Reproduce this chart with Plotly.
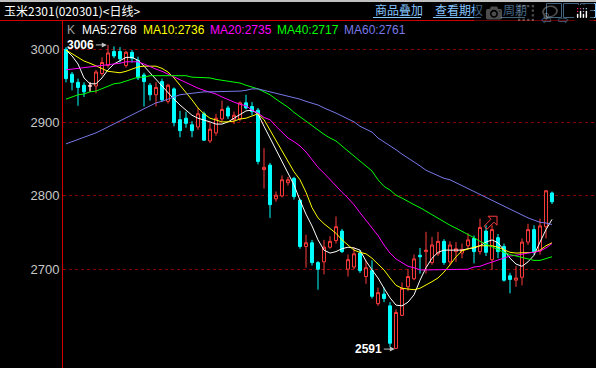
import plotly.graph_objects as go

# ---------------- data ----------------
opens = [3000, 2966, 2955, 2951, 2950, 2950, 2967, 2978, 2997, 2997,
         2978, 2996, 2985, 2965, 2951, 2938, 2956, 2929, 2946, 2904,
         2906, 2897, 2894, 2912, 2875, 2886, 2905, 2920, 2904, 2905,
         2927, 2922, 2917, 2836, 2842, 2796, 2800, 2818, 2824, 2794,
         2731, 2736, 2709, 2710, 2730, 2739, 2752, 2700, 2703, 2722,
         2690, 2698, 2653, 2666, 2650, 2592, 2637, 2676, 2687, 2719,
         2724, 2709, 2721, 2738, 2710, 2724, 2722, 2732, 2742, 2724,
         2752, 2713, 2743, 2731, 2691, 2685, 2689, 2737, 2754, 2725,
         2758, 2804]
highs = [3003, 2969, 2960, 2955, 2955, 2972, 2989, 3006, 3004, 3003,
         2998, 2999, 2990, 2968, 2954, 2955, 2960, 2953, 2948, 2916,
         2915, 2902, 2920, 2915, 2900, 2912, 2930, 2923, 2915, 2929,
         2938, 2928, 2920, 2865, 2845, 2806, 2828, 2826, 2826, 2796,
         2747, 2740, 2711, 2740, 2745, 2772, 2755, 2720, 2730, 2726,
         2712, 2712, 2675, 2675, 2655, 2645, 2682, 2700, 2720, 2729,
         2751, 2744, 2751, 2741, 2738, 2737, 2735, 2749, 2746, 2769,
         2760, 2760, 2748, 2735, 2695, 2704, 2742, 2762, 2760, 2769,
         2808, 2806]
lows = [2955, 2944, 2923, 2935, 2942, 2940, 2964, 2975, 2988, 2982,
        2975, 2982, 2958, 2922, 2930, 2922, 2928, 2926, 2895, 2880,
        2893, 2880, 2890, 2875, 2872, 2882, 2902, 2905, 2898, 2902,
        2918, 2910, 2843, 2810, 2770, 2792, 2798, 2814, 2795, 2728,
        2702, 2705, 2672, 2693, 2728, 2735, 2722, 2690, 2700, 2695,
        2680, 2660, 2650, 2655, 2594, 2591, 2636, 2670, 2685, 2694,
        2694, 2706, 2718, 2706, 2705, 2710, 2715, 2728, 2708, 2720,
        2718, 2699, 2715, 2683, 2667, 2676, 2678, 2733, 2720, 2720,
        2742, 2789]
closes = [2960, 2955, 2948, 2942, 2950, 2969, 2982, 2995, 2991, 2987,
          2996, 2988, 2961, 2956, 2938, 2948, 2931, 2951, 2900, 2889,
          2899, 2889, 2912, 2876, 2891, 2906, 2918, 2909, 2910, 2927,
          2920, 2915, 2847, 2839, 2788, 2801, 2822, 2822, 2799, 2731,
          2736, 2709, 2700, 2730, 2738, 2758, 2724, 2713, 2721, 2698,
          2702, 2663, 2668, 2660, 2599, 2641, 2674, 2690, 2714, 2717,
          2726, 2733, 2738, 2709, 2733, 2728, 2727, 2740, 2724, 2757,
          2723, 2754, 2724, 2685, 2686, 2688, 2737, 2754, 2724, 2759,
          2807, 2792]

ma5 = [2999, 2991, 2980, 2961, 2953, 2953, 2961, 2972, 2980, 2985,
       2989, 2989, 2985, 2977, 2968, 2958, 2949, 2940, 2932, 2924,
       2917, 2910, 2906, 2904, 2901, 2898, 2898, 2901, 2906, 2912,
       2916, 2917, 2912, 2895, 2879, 2863, 2846, 2832, 2815, 2794,
       2775, 2759, 2740, 2726, 2722, 2724, 2728, 2730, 2729, 2726,
       2711, 2699, 2688, 2674, 2661, 2651, 2650, 2655, 2665, 2685,
       2702, 2715, 2723, 2726, 2726, 2726, 2726, 2728, 2729, 2732,
       2737, 2740, 2736, 2726, 2715, 2707, 2704, 2710, 2719, 2737,
       2754, 2768]
ma10 = [2999, 2994, 2988, 2984, 2981, 2977, 2973, 2970, 2969, 2968,
        2970, 2973, 2976, 2977, 2977, 2977, 2974, 2969, 2961, 2951,
        2942, 2931, 2920, 2912, 2906, 2904, 2901, 2901, 2902, 2905,
        2906, 2909, 2912, 2904, 2890, 2876, 2860, 2846, 2833, 2822,
        2805, 2784, 2770, 2762, 2756, 2749, 2740, 2733, 2726, 2723,
        2721, 2715, 2707, 2699, 2688, 2678, 2674, 2673, 2672, 2674,
        2678, 2683, 2688, 2696, 2706, 2717, 2725, 2728, 2730, 2732,
        2732, 2732, 2730, 2726, 2723, 2722, 2722, 2722, 2723, 2726,
        2732, 2736]
ma20 = [2972, 2973, 2974, 2974, 2976, 2976, 2977, 2979, 2980, 2981,
        2983, 2983, 2983, 2980, 2976, 2973, 2970, 2966, 2962, 2958,
        2955, 2951, 2947, 2944, 2942, 2939, 2935, 2931, 2928, 2925,
        2923, 2917, 2913, 2907, 2904, 2895, 2887, 2879, 2874, 2868,
        2860, 2849, 2839, 2831, 2822, 2813, 2805, 2797, 2788, 2777,
        2767, 2756, 2746, 2733, 2722, 2714, 2709, 2704, 2702, 2699,
        2699, 2699, 2699, 2699, 2700, 2700, 2699, 2700, 2703, 2704,
        2707, 2710, 2712, 2715, 2718, 2719, 2721, 2722, 2723, 2725,
        2729, 2735]
ma40 = [2932, 2935, 2938, 2939, 2942, 2943, 2946, 2950, 2953, 2954,
        2957, 2959, 2962, 2962, 2964, 2964, 2964, 2964, 2964, 2964,
        2964, 2962, 2962, 2961, 2961, 2959, 2958, 2957, 2955, 2954,
        2951, 2949, 2946, 2942, 2938, 2932, 2927, 2921, 2914, 2908,
        2901, 2895, 2890, 2884, 2879, 2875, 2868, 2861, 2854, 2848,
        2841, 2834, 2822, 2813, 2808, 2801, 2797, 2792, 2788, 2784,
        2779, 2775, 2770, 2764, 2760, 2756, 2752, 2748, 2743, 2738,
        2734, 2730, 2726, 2723, 2720, 2718, 2715, 2714, 2712, 2712,
        2714, 2717]
ma60 = [2871, 2874, 2876, 2879, 2882, 2886, 2890, 2894, 2898, 2902,
        2906, 2910, 2914, 2918, 2923, 2927, 2929, 2932, 2935, 2938,
        2939, 2940, 2940, 2942, 2942, 2942, 2942, 2943, 2943, 2943,
        2944, 2946, 2946, 2944, 2942, 2940, 2938, 2936, 2935, 2932,
        2929, 2927, 2924, 2920, 2917, 2913, 2909, 2905, 2901, 2895,
        2891, 2887, 2879, 2874, 2868, 2863, 2857, 2852, 2846, 2841,
        2835, 2831, 2827, 2824, 2822, 2818, 2813, 2809, 2805, 2801,
        2797, 2793, 2789, 2785, 2781, 2777, 2774, 2770, 2767, 2764,
        2763, 2761]

ma_names = ["MA5", "MA10", "MA20", "MA40", "MA60"]
ma_values = [ma5, ma10, ma20, ma40, ma60]
ytick_vals = [2700, 2800, 2900, 3000]
title_text = "玉米2301(020301)<日线>"
menu_items = ["商品叠加", "查看期权", "周期"]

# ---------------- styling / layout helpers ----------------
W, H = 596, 368
L, T = 63, 20
PW, PH = W - L, H - T


def fx(px):
    return (px - L) / PW


def fy(py):
    return (H - py) / PH


ma_colors = ["#FFFFFF", "#FFFF00", "#FF00FF", "#00FF00", "#7878E8"]
RED = "#FF3C3C"
CYAN = "#00FFFF"
MENU = "#86C6FF"
AXRED = "#D00000"

idx = list(range(len(closes)))

fig = go.Figure()
fig.add_trace(go.Candlestick(
    x=idx, open=opens, high=highs, low=lows, close=closes,
    increasing=dict(line=dict(color=RED, width=1), fillcolor="#000000"),
    decreasing=dict(line=dict(color=CYAN, width=1), fillcolor=CYAN),
    whiskerwidth=0, showlegend=False, hoverinfo="skip"))

# doji candles (open == close) are drawn as white crosses
dx, dy = [], []
for i in idx:
    if opens[i] == closes[i]:
        dx += [i, i, None, i - 0.35, i + 0.35, None]
        dy += [lows[i], highs[i], None, opens[i], opens[i], None]
if dx:
    fig.add_trace(go.Scatter(x=dx, y=dy, mode="lines", line=dict(color="#FFFFFF", width=1),
                             showlegend=False, hoverinfo="skip"))

for vals, col in zip(ma_values, ma_colors):
    fig.add_trace(go.Scatter(x=idx, y=vals, mode="lines",
                             line=dict(color=col, width=1),
                             showlegend=False, hoverinfo="skip"))

annotations = []
shapes = []

# title bar
annotations.append(dict(text=title_text, x=fx(2), y=fy(11), xref="paper", yref="paper",
                        xanchor="left", yanchor="middle", showarrow=False,
                        font=dict(family="Noto Sans CJK SC", size=12, color="#FFFFFF")))
menu_x = [373, 433, 501]
for txt, mx in zip(menu_items, menu_x):
    annotations.append(dict(text=txt, x=fx(mx), y=fy(10), xref="paper", yref="paper",
                            xanchor="left", yanchor="middle", showarrow=False,
                            font=dict(family="Noto Sans CJK SC", size=12, color=MENU)))
    wid = 12 * len(txt)
    shapes.append(dict(type="line", xref="paper", yref="paper",
                       x0=fx(mx), x1=fx(mx + wid), y0=fy(17.5), y1=fy(17.5),
                       line=dict(color=MENU, width=1)))
# icon boxes
for k, bx in enumerate([546, 563, 580]):
    shapes.append(dict(type="rect", xref="paper", yref="paper",
                       x0=fx(bx + 0.5), x1=fx(bx + 15.5), y0=fy(3.5), y1=fy(17.5),
                       line=dict(color=MENU, width=1)))
annotations.append(dict(text="⇦", x=fx(554), y=fy(10.5), xref="paper", yref="paper",
                        showarrow=False, font=dict(family="DejaVu Sans", size=13, color=MENU)))
annotations.append(dict(text="⇨", x=fx(571), y=fy(10.5), xref="paper", yref="paper",
                        showarrow=False, font=dict(family="DejaVu Sans", size=13, color=MENU)))
shapes.append(dict(type="line", xref="paper", yref="paper",
                   x0=fx(584), x1=fx(584), y0=fy(3.5), y1=fy(17.5), line=dict(color=MENU, width=1)))
shapes.append(dict(type="line", xref="paper", yref="paper",
                   x0=fx(584), x1=fx(595.5), y0=fy(10.5), y1=fy(10.5), line=dict(color=MENU, width=1)))
# top gray strip
shapes.append(dict(type="rect", xref="paper", yref="paper", x0=fx(0), x1=1,
                   y0=fy(2), y1=fy(0), fillcolor="#C0C0C0", line=dict(width=0)))
# red separator line under title
shapes.append(dict(type="line", xref="paper", yref="paper", x0=fx(0), x1=1,
                   y0=fy(20.5), y1=fy(20.5), line=dict(color=AXRED, width=1)))

# legend row
leg_x = [80, 141, 208, 275, 342]
annotations.append(dict(text="K", x=fx(65), y=fy(30), xref="paper", yref="paper",
                        xanchor="left", yanchor="middle", showarrow=False,
                        font=dict(family="Liberation Sans", size=12, color="#A0A0A0")))
for name, vals, col, lx in zip(ma_names, ma_values, ma_colors, leg_x):
    annotations.append(dict(text=f"{name}:{vals[-1]}", x=fx(lx), y=fy(30),
                            xref="paper", yref="paper", xanchor="left", yanchor="middle",
                            showarrow=False,
                            font=dict(family="Liberation Sans", size=12, color=col)))

# max / min markers
i_max = max(idx, key=lambda i: highs[i])
i_min = min(idx, key=lambda i: lows[i])
for i_ext, val, off in [(i_max, highs[i_max], -26), (i_min, lows[i_min], -26)]:
    annotations.append(dict(text=f"<b>{val}</b>", x=i_ext - 0.2, y=val, xref="x", yref="y",
                            ax=off, ay=0, showarrow=True, arrowhead=2, arrowsize=1,
                            arrowwidth=1, arrowcolor="#C0C0C0", standoff=0, startstandoff=0,
                            font=dict(family="Liberation Sans", size=12, color="#FFFFFF")))

# hollow signal arrow near candle 71
shapes.append(dict(type="path", xref="x", yref="y", xsizemode="pixel", ysizemode="pixel",
                   xanchor=71, yanchor=highs[71],
                   path="M 5 9 L 5 0 L 2 3 L -5 -4 L -8 -1 L -1 6 L -4 9 Z",
                   line=dict(color=RED, width=1), fillcolor="rgba(0,0,0,0)"))

fig.update_layout(
    width=W, height=H,
    margin=dict(l=L, r=0, t=T, b=0, pad=0),
    paper_bgcolor="#000000", plot_bgcolor="#000000",
    showlegend=False,
    xaxis=dict(range=[-0.5, -0.5 + PW / 6.0], showgrid=False, zeroline=False,
               showticklabels=False, ticks="", rangeslider=dict(visible=False),
               fixedrange=True),
    yaxis=dict(range=[2565.2, 3040.0], tickvals=ytick_vals, ticks="",
               gridcolor="#8B0000", griddash="dot", gridwidth=1, zeroline=False,
               showline=True, linecolor=AXRED, linewidth=1,
               tickfont=dict(family="Liberation Sans", size=13, color="#C8C8C8"),
               fixedrange=True),
    annotations=annotations, shapes=shapes,
)

fig.write_html("out.html", post_script="document.body.style.margin='0';")
